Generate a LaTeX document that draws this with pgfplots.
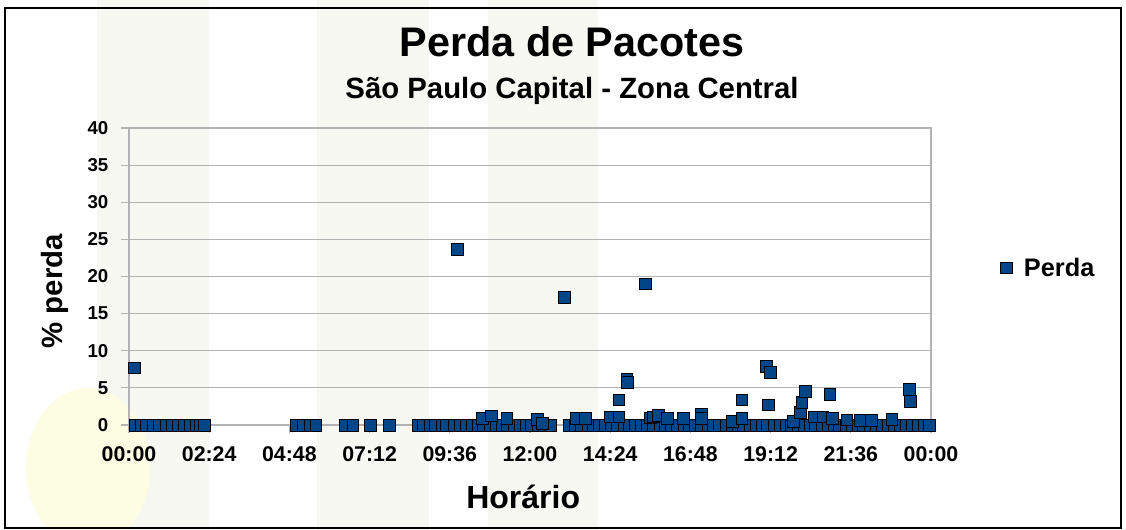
\documentclass[border=0pt]{standalone}
\usepackage{fontspec}
\setmainfont{Liberation Sans}
\usepackage{pgfplots}
\pgfplotsset{compat=1.18}
\definecolor{perda}{HTML}{004586}
\definecolor{grade}{HTML}{B3B3B3}
\definecolor{faixa}{HTML}{F7F8F1}
\definecolor{mancha}{HTML}{FDFDE4}

\begin{document}
\begin{tikzpicture}[x=0.75pt,y=0.75pt]
% coordenadas em pixels, y contado de baixo (530 - y da imagem)
\useasboundingbox (0,0) rectangle (1126,530);
\fill[white] (0,0) rectangle (1126,530);
% marca d'agua ao fundo
\fill[faixa] (97,0) rectangle (209,530);
\fill[faixa] (317,0) rectangle (429,530);
\fill[faixa] (488,0) rectangle (598,530);
\fill[mancha] (88,62) ellipse (62 and 80);
\draw[line width=1.6pt] (5,2) rectangle (1121,522);

\node[anchor=base, font=\fontsize{31}{34}\selectfont\bfseries] at (572,473) {Perda de Pacotes};
\node[anchor=base, font=\fontsize{22}{24}\selectfont\bfseries] at (572,431) {São Paulo Capital - Zona Central};

\begin{axis}[at={(96.75pt,78.75pt)}, anchor=south west,
  scale only axis, width=601.5pt, height=222.75pt,
  xmin=0, xmax=1, ymin=0, ymax=40,
  axis line style={grade, line width=0.8pt},
  ymajorgrids, grid style={grade, line width=0.8pt},
  tick style={grade, line width=0.8pt}, tick align=outside,
  major tick length=6pt, xtick pos=left, ytick pos=left,
  xtick={0,0.1,...,1.01},
  xticklabels={00:00,02:24,04:48,07:12,09:36,12:00,14:24,16:48,19:12,21:36,00:00},
  ytick={0,5,...,40},
  yticklabels={0,5,10,15,20,25,30,35,40},
  xticklabel style={font=\fontsize{16}{18}\selectfont\bfseries, yshift=-7pt},
  yticklabel style={font=\fontsize{14}{16}\selectfont\bfseries, xshift=-6pt},
  xlabel={Horário}, ylabel={\% perda},
  xlabel style={font=\fontsize{24}{26}\selectfont\bfseries,
    at={(axis description cs:0.4915,-0.242)}, anchor=center},
  ylabel style={font=\fontsize{22}{24}\selectfont\bfseries,
    at={(axis description cs:-0.0923,0.45)}, anchor=center},
  legend style={at={(1.081,0.529)}, anchor=west, draw=none, fill=none,
    font=\fontsize{19}{21}\selectfont\bfseries},
  clip=false]
\addplot[only marks, mark=square*, mark size=4.4pt,
  mark options={fill=perda, draw=black, line width=0.5pt}]
coordinates {
(0.0075,0) (0.015,0) (0.022,0) (0.030,0) (0.038,0) (0.046,0) (0.054,0)
(0.061,0) (0.069,0) (0.076,0) (0.084,0) (0.089,0) (0.094,0)
(0.208,0) (0.217,0) (0.226,0) (0.233,0)
(0.269,0) (0.279,0) (0.301,0) (0.325,0)
(0.360,0) (0.367,0) (0.376,0) (0.382,0) (0.390,0) (0.396,0) (0.405,0)
(0.413,0) (0.420,0) (0.428,0) (0.435,0) (0.442,0) (0.450,0) (0.458,0)
(0.465,0) (0.472,0) (0.480,0) (0.488,0) (0.495,0) (0.502,0) (0.510,0)
(0.518,0) (0.525,0)
(0.549,0) (0.556,0) (0.564,0) (0.572,0) (0.579,0) (0.586,0) (0.594,0)
(0.601,0) (0.609,0) (0.617,0) (0.624,0) (0.631,0) (0.639,0) (0.646,0)
(0.654,0) (0.662,0) (0.669,0) (0.676,0) (0.684,0) (0.692,0) (0.699,0)
(0.706,0) (0.714,0) (0.722,0) (0.729,0) (0.736,0) (0.744,0) (0.752,0)
(0.759,0) (0.766,0) (0.774,0) (0.782,0) (0.789,0) (0.796,0) (0.804,0)
(0.812,0) (0.819,0) (0.826,0) (0.834,0) (0.842,0) (0.849,0) (0.856,0)
(0.864,0) (0.872,0) (0.879,0) (0.886,0) (0.894,0) (0.902,0) (0.909,0)
(0.916,0) (0.924,0) (0.932,0) (0.939,0) (0.946,0) (0.954,0) (0.962,0)
(0.969,0) (0.976,0) (0.984,0) (0.991,0) (0.998,0)
};
\addlegendentry{\hspace{7pt}Perda}
\addplot[only marks, mark=square*, mark size=4.4pt, forget plot,
  mark options={fill=perda, draw=black, line width=0.5pt}]
coordinates {
(0.007,7.7) (0.409,23.7) (0.5426,17.2) (0.6436,19.0)
(0.441,0.9) (0.452,1.25) (0.471,0.9) (0.509,0.8) (0.515,0.2)
(0.558,0.9) (0.569,0.9) (0.600,1.1) (0.6106,1.1) (0.6106,3.4)
(0.6206,6.2) (0.621,5.7)
(0.650,0.95) (0.654,1.1) (0.660,1.35) (0.671,0.9) (0.691,0.9)
(0.714,1.4) (0.714,0.9) (0.752,0.45) (0.764,3.4) (0.764,0.9)
(0.795,7.9) (0.7995,7.1) (0.797,2.7)
(0.828,0.5) (0.837,1.7) (0.839,3.1) (0.843,4.5) (0.854,1.1)
(0.865,1.1) (0.874,4.1) (0.8765,0.9) (0.895,0.7) (0.912,0.6)
(0.926,0.6) (0.951,0.8) (0.973,4.85) (0.974,3.2)
};
\end{axis}
\end{tikzpicture}
\end{document}
